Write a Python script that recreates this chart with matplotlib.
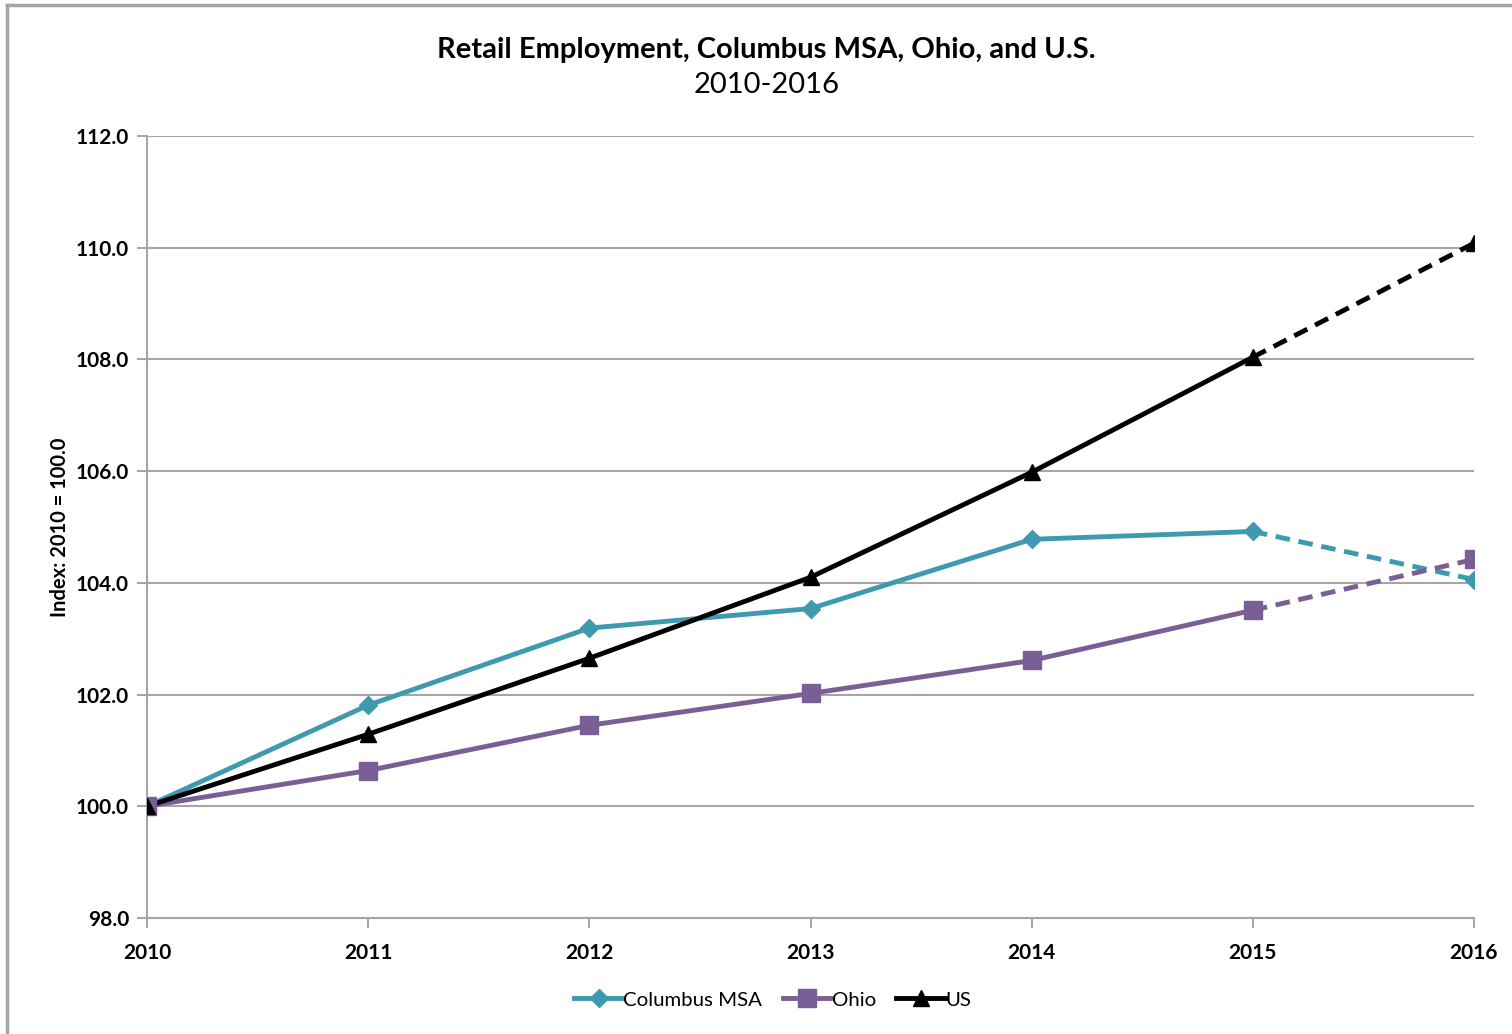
import matplotlib.pyplot as plt
from matplotlib.lines import Line2D

plt.rcParams['font.family'] = ['Lato', 'DejaVu Sans']

years = [2010, 2011, 2012, 2013, 2014, 2015, 2016]
columbus = [100.0, 101.81, 103.19, 103.54, 104.78, 104.92, 104.06]
ohio = [100.0, 100.64, 101.45, 102.02, 102.61, 103.51, 104.42]
us = [100.0, 101.29, 102.65, 104.10, 105.98, 108.04, 110.08]

teal = '#3F9AB0'
purple = '#7A5F96'
black = '#000000'

fig = plt.figure(figsize=(15.12, 10.34), dpi=100)
ax = fig.add_axes([147 / 1512, 1 - 918 / 1034, (1474 - 147) / 1512, (918 - 136) / 1034])

series = [
    ('Columbus MSA', columbus, teal, 'D', 9),
    ('Ohio', ohio, purple, 's', 13),
    ('US', us, black, '^', 12),
]
handles = []
for name, vals, col, mk, ms in series:
    ax.plot(years[:6], vals[:6], color=col, lw=3.5, zorder=3)
    ax.plot(years[5:], vals[5:], color=col, lw=3.5, ls=(0, (3, 1.8)), zorder=3)
    ax.plot(years, vals, ls='none', marker=mk, ms=ms, color=col, zorder=4)
    handles.append(Line2D([], [], color=col, lw=3.5, marker=mk, ms=ms, label=name))

ax.set_xlim(2010, 2016)
ax.set_ylim(98, 112)
ax.set_xticks(years)
ax.set_yticks([98, 100, 102, 104, 106, 108, 110, 112])
ax.set_yticklabels([f'{v:.1f}' for v in [98, 100, 102, 104, 106, 108, 110, 112]])
ax.grid(axis='y', color='#A6A6A6', lw=1.5)
ax.set_axisbelow(True)
for s in ['top', 'right']:
    ax.spines[s].set_visible(False)
for s in ['left', 'bottom']:
    ax.spines[s].set_color('#A6A6A6')
    ax.spines[s].set_linewidth(1.5)
ax.tick_params(colors='#A6A6A6', width=1.5, length=7, labelcolor='black', labelsize=15)
ax.tick_params(axis='x', pad=11)
ax.tick_params(axis='y', pad=6)
for lab in ax.get_xticklabels() + ax.get_yticklabels():
    lab.set_fontweight('bold')
ax.set_ylabel('Index: 2010 = 100.0', fontsize=14.5, fontweight='bold', labelpad=4)

fig.text(0.507, 0.952, 'Retail Employment, Columbus MSA, Ohio, and U.S.', ha='center',
         va='center', fontsize=21, fontweight='bold')
fig.text(0.507, 0.918, '2010-2016', ha='center', va='center', fontsize=21)

fig.legend(handles=handles, loc='center', bbox_to_anchor=(0.511, 0.033), ncol=3,
           frameon=False, fontsize=14.7, handlelength=2.4, handletextpad=0.0,
           columnspacing=1.0)

fig.add_artist(Line2D([7 / 1512, 7 / 1512], [0, 1 - 5 / 1034], color='#A6A6A6', lw=2.5))
fig.add_artist(Line2D([7 / 1512, 1], [1 - 5 / 1034, 1 - 5 / 1034], color='#A6A6A6', lw=2.5))

fig.savefig('out.png', dpi=100)
